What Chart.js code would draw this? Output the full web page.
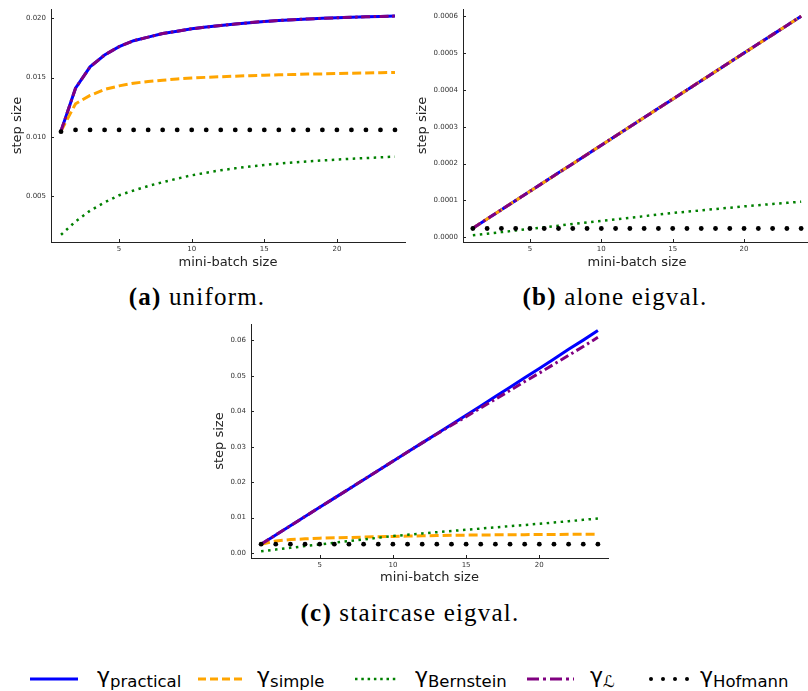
<!DOCTYPE html>
<html>
<head>
<meta charset="utf-8">
<script src="https://cdn.jsdelivr.net/npm/chart.js@4.4.0/dist/chart.umd.min.js"></script>
<style>
  body { margin: 0; width: 808px; height: 691px; overflow: hidden; background: #fff; position: relative; }
  canvas { position: absolute; }
  .cap { position: absolute; font-family: "Liberation Serif", serif; font-size: 25px; letter-spacing: 1.2px; color: #000; white-space: nowrap; text-align: center; }
  .leg { position: absolute; top: 663px; font-family: "DejaVu Sans", sans-serif; font-size: 22px; color: #000; white-space: nowrap; }
  .leg sub { font-size: 16.5px; vertical-align: -4px; }
</style>
</head>
<body>
<canvas id="chartA" width="410" height="275" style="left:0;top:0"></canvas>
<canvas id="chartB" width="405" height="275" style="left:410px;top:0"></canvas>
<canvas id="chartC" width="410" height="275" style="left:205px;top:315px"></canvas>

<div class="cap" style="left:97px;top:283px;width:200px"><b>(a)</b> uniform.</div>
<div class="cap" style="left:505px;top:283px;width:220px"><b>(b)</b> alone eigval.</div>
<div class="cap" style="left:260px;top:599px;width:300px"><b>(c)</b> staircase eigval.</div>

<svg style="position:absolute;left:0;top:668px" width="808" height="22">
  <line x1="30" y1="11" x2="78" y2="11" stroke="#0000ff" stroke-width="3"/>
  <line x1="198" y1="11" x2="244" y2="11" stroke="#ffa500" stroke-width="3" stroke-dasharray="8 4"/>
  <line x1="355" y1="11" x2="399" y2="11" stroke="#008000" stroke-width="2.5" stroke-dasharray="2.5 3.8"/>
  <line x1="527" y1="11" x2="574" y2="11" stroke="#800080" stroke-width="3" stroke-dasharray="12 4 3 4"/>
  <circle cx="651" cy="11" r="2" fill="#000"/>
  <circle cx="663" cy="11" r="2" fill="#000"/>
  <circle cx="675" cy="11" r="2" fill="#000"/>
  <circle cx="687" cy="11" r="2" fill="#000"/>
</svg>
<div class="leg" style="left:97px">γ<sub>practical</sub></div>
<div class="leg" style="left:257px">γ<sub>simple</sub></div>
<div class="leg" style="left:415px">γ<sub>Bernstein</sub></div>
<div class="leg" style="left:590px">γ<sub><i>ℒ</i></sub></div>
<div class="leg" style="left:700px">γ<sub>Hofmann</sub></div>

<script>
// mini-batch sizes (x axis of every panel)
const batchSizes = [1, 2, 3, 4, 5, 6, 7, 8, 9, 10, 11, 12, 13, 14, 15, 16, 17, 18, 19, 20, 21, 22, 23, 24];
const xTicks = [5, 10, 15, 20];

// (a) uniform
const uniPractical = [0.0105, 0.0141, 0.0159, 0.0169, 0.0176, 0.0181, 0.0184, 0.0187, 0.0189, 0.0191, 0.01925, 0.01938,
  0.0195, 0.01962, 0.01972, 0.0198, 0.01987, 0.01993, 0.01998, 0.02003, 0.02007, 0.02011, 0.02014, 0.02017];
const uniSimple = [0.0105, 0.0128, 0.0135, 0.0140, 0.0143, 0.01453, 0.01467, 0.01478, 0.01488, 0.01496, 0.01502, 0.01507,
  0.01512, 0.01516, 0.0152, 0.01523, 0.01526, 0.01529, 0.01531, 0.01534, 0.01537, 0.01539, 0.01541, 0.01543];
const uniBernstein = [0.00178, 0.0029, 0.0038, 0.0045, 0.0051, 0.0055, 0.00588, 0.0062, 0.0065, 0.00678, 0.0070, 0.0072,
  0.00737, 0.00752, 0.00765, 0.00776, 0.00786, 0.00795, 0.00803, 0.0081, 0.00817, 0.00823, 0.00829, 0.00835];
const uniL = [0.0105, 0.0141, 0.0159, 0.0169, 0.0176, 0.0181, 0.0184, 0.0187, 0.0189, 0.0191, 0.01925, 0.01938,
  0.0195, 0.01962, 0.01972, 0.0198, 0.01987, 0.01993, 0.01998, 0.02003, 0.02007, 0.02011, 0.02014, 0.02017];
const uniHofmann = [0.01045, 0.0106, 0.0106, 0.0106, 0.0106, 0.0106, 0.0106, 0.0106, 0.0106, 0.0106, 0.0106, 0.0106,
  0.0106, 0.0106, 0.0106, 0.0106, 0.0106, 0.0106, 0.0106, 0.0106, 0.0106, 0.0106, 0.0106, 0.0106];
const uniYTicks = [0.005, 0.010, 0.015, 0.020];

// (b) alone eigval
const alonePractical = [0.000025, 0.00005, 0.000075, 0.0001, 0.000125, 0.00015, 0.000175, 0.0002, 0.000225, 0.00025, 0.000275, 0.0003,
  0.000325, 0.00035, 0.000375, 0.0004, 0.000425, 0.00045, 0.000475, 0.0005, 0.000525, 0.00055, 0.000575, 0.0006];
const aloneSimple = [0.000025, 0.00005, 0.000075, 0.0001, 0.000125, 0.00015, 0.000175, 0.0002, 0.000225, 0.00025, 0.000275, 0.0003,
  0.000325, 0.00035, 0.000375, 0.0004, 0.000425, 0.00045, 0.000475, 0.0005, 0.000525, 0.00055, 0.000575, 0.0006];
const aloneBernstein = [0.0000054, 0.0000098, 0.0000142, 0.0000186, 0.000023, 0.0000274, 0.0000318, 0.0000362, 0.0000404, 0.0000446,
  0.0000489, 0.0000532, 0.0000575, 0.0000618, 0.0000661, 0.0000697, 0.0000733, 0.0000769, 0.0000805, 0.0000841, 0.0000873,
  0.0000905, 0.0000936, 0.0000968];
const aloneL = [0.000025, 0.00005, 0.000075, 0.0001, 0.000125, 0.00015, 0.000175, 0.0002, 0.000225, 0.00025, 0.000275, 0.0003,
  0.000325, 0.00035, 0.000375, 0.0004, 0.000425, 0.00045, 0.000475, 0.0005, 0.000525, 0.00055, 0.000575, 0.0006];
const aloneHofmann = [0.000024, 0.000024, 0.000024, 0.000024, 0.000024, 0.000024, 0.000024, 0.000024, 0.000024, 0.000024, 0.000024, 0.000024,
  0.000024, 0.000024, 0.000024, 0.000024, 0.000024, 0.000024, 0.000024, 0.000024, 0.000024, 0.000024, 0.000024, 0.000024];
const aloneYTicks = [0, 0.0001, 0.0002, 0.0003, 0.0004, 0.0005, 0.0006];

// (c) staircase eigval
const stairPractical = [0.0025, 0.0051, 0.0077, 0.0103, 0.0129, 0.0155, 0.0181, 0.0207, 0.0233, 0.0259, 0.0285, 0.0311,
  0.0337, 0.0363, 0.0389, 0.0415, 0.0442, 0.0468, 0.0495, 0.0521, 0.0548, 0.0575, 0.0601, 0.0628];
const stairSimple = [0.0025, 0.0034, 0.0038, 0.0040, 0.0042, 0.0043, 0.0044, 0.0045, 0.0046, 0.0047, 0.0048, 0.00487,
  0.00493, 0.005, 0.00505, 0.0051, 0.00513, 0.00516, 0.00519, 0.00522, 0.00525, 0.00527, 0.00529, 0.0053];
const stairBernstein = [0.0005, 0.00098, 0.00147, 0.00196, 0.00244, 0.00291, 0.00338, 0.00385, 0.00432, 0.00478, 0.00516, 0.00553,
  0.00588, 0.00623, 0.00657, 0.00691, 0.00725, 0.00759, 0.00792, 0.00826, 0.00863, 0.009, 0.00937, 0.00975];
const stairL = [0.0025, 0.0051, 0.0077, 0.0103, 0.0129, 0.0155, 0.0181, 0.0207, 0.0233, 0.0259, 0.0285, 0.0311,
  0.0336, 0.0361, 0.0385, 0.041, 0.0434, 0.0459, 0.0484, 0.0508, 0.0533, 0.0558, 0.0583, 0.0609];
const stairHofmann = [0.0025, 0.0025, 0.0025, 0.0025, 0.0025, 0.0025, 0.0025, 0.0025, 0.0025, 0.0025, 0.0025, 0.0025,
  0.0025, 0.0025, 0.0025, 0.0025, 0.0025, 0.0025, 0.0025, 0.0025, 0.0025, 0.0025, 0.0025, 0.0025];
const stairYTicks = [0, 0.01, 0.02, 0.03, 0.04, 0.05, 0.06];

Chart.defaults.font.family = "DejaVu Sans";
Chart.defaults.color = "#333";

// Julia/GR style: tick marks point into the plot
const inwardTicks = {
  id: "inwardTicks",
  afterDraw(chart) {
    const { ctx, chartArea, scales } = chart;
    ctx.save();
    ctx.strokeStyle = "#222";
    ctx.lineWidth = 1;
    ctx.beginPath();
    scales.x.ticks.forEach((t) => {
      const px = Math.round(scales.x.getPixelForValue(t.value)) + 0.5;
      ctx.moveTo(px, chartArea.bottom);
      ctx.lineTo(px, chartArea.bottom - 3);
    });
    scales.y.ticks.forEach((t) => {
      const py = Math.round(scales.y.getPixelForValue(t.value)) + 0.5;
      ctx.moveTo(chartArea.left, py);
      ctx.lineTo(chartArea.left + 3, py);
    });
    ctx.stroke();
    ctx.restore();
  },
};

const pts = (vals) => batchSizes.map((b, i) => ({ x: b, y: vals[i] }));

function makePanel(id, series, yRange, yTicks, decimals, box) {
  const datasets = [
    { data: pts(series[0]), borderColor: "#0000ff", borderWidth: 3, order: 5 },
    { data: pts(series[1]), borderColor: "#ffa500", borderWidth: 3, borderDash: [9, 4], order: 4 },
    { data: pts(series[2]), borderColor: "#008000", borderWidth: 2.5, borderDash: [2.5, 4.5], order: 3 },
    { data: pts(series[3]), borderColor: "#800080", borderWidth: 3, borderDash: [9, 3.5, 2.5, 3.5], order: 2 },
    { data: pts(series[4]), showLine: false, pointRadius: 2.4, pointBackgroundColor: "#000", pointBorderWidth: 0, order: 1 },
  ];
  datasets.forEach((d) => {
    d.tension = 0;
    if (d.showLine !== false) d.pointRadius = 0;
    d.borderCapStyle = "butt";
  });

  return new Chart(document.getElementById(id), {
    type: "line",
    data: { datasets },
    plugins: [inwardTicks],
    options: {
      responsive: false,
      animation: false,
      layout: { padding: { top: box.top, right: box.right, left: 0, bottom: 0 } },
      plugins: { legend: { display: false }, tooltip: { enabled: false } },
      scales: {
        x: {
          type: "linear",
          min: 0.31,
          max: 24.69,
          grid: { display: false, drawTicks: false },
          border: { display: true, color: "#222", width: 1 },
          afterBuildTicks: (s) => { s.ticks = xTicks.map((v) => ({ value: v })); },
          afterFit: (s) => { s.height = box.xh; },
          ticks: { font: { size: 7 }, padding: 3, maxRotation: 0 },
          title: { display: true, text: "mini-batch size", font: { size: 13 }, color: "#222", padding: { bottom: box.xtp } },
        },
        y: {
          min: yRange[0],
          max: yRange[1],
          grid: { display: false, drawTicks: false },
          border: { display: true, color: "#222", width: 1 },
          afterBuildTicks: (s) => { s.ticks = yTicks.map((v) => ({ value: v })); },
          afterFit: (s) => { s.width = box.yw; },
          ticks: { font: { size: 7 }, padding: 5, callback: (v) => Number(v).toFixed(decimals) },
          title: { display: true, text: "step size", font: { size: 13 }, color: "#222", padding: { top: box.ytp } },
        },
      },
    },
  });
}

makePanel("chartA", [uniPractical, uniSimple, uniBernstein, uniL, uniHofmann],
  [0.00117, 0.02075], uniYTicks, 3, { top: 7, right: 5, xh: 33, yw: 51, xtp: 5, ytp: 10 });
makePanel("chartB", [alonePractical, aloneSimple, aloneBernstein, aloneL, aloneHofmann],
  [-0.0000126, 0.000619], aloneYTicks, 4, { top: 7, right: 4, xh: 33, yw: 53, xtp: 5, ytp: 5 });
makePanel("chartC", [stairPractical, stairSimple, stairBernstein, stairL, stairHofmann],
  [-0.0014, 0.0646], stairYTicks, 2, { top: 8, right: 7, xh: 32, yw: 46, xtp: 5, ytp: 7 });
</script>
</body>
</html>
